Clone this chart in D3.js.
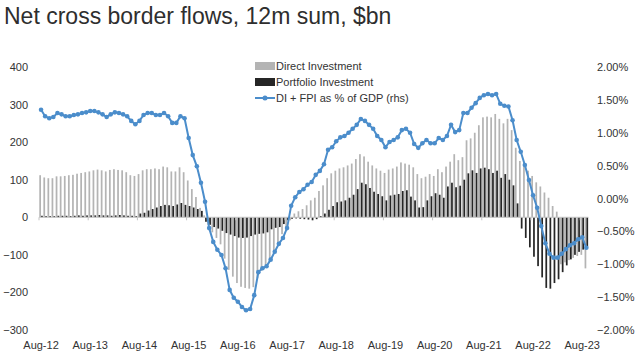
<!DOCTYPE html>
<html>
<head>
<meta charset="utf-8">
<script src="https://cdn.jsdelivr.net/npm/d3@7"></script>
<style>
  html, body { margin: 0; padding: 0; background: #ffffff; }
  svg { display: block; }
  text { font-family: "Liberation Sans", Arial, sans-serif; fill: #333333; }
</style>
</head>
<body>
<svg id="chart" width="640" height="356"></svg>
<script>
// ---- Data, monthly Aug-12 .. Sep-23 ----
const startMonth = new Date(2012, 7, 1);
const monthCount = 134;

// Direct Investment, 12m sum, $bn
const diValues = [
  112,106,104,104,109,109,110,112,113,116,
  118,120,122,125,127,125,122,126,128,126,
  125,120,112,110,115,125,128,128,130,128,
  135,133,122,122,133,120,98,75,54,25,
  5,-20,-40,-55,-72,-110,-140,-158,-175,-185,
  -188,-190,-186,-162,-142,-128,-112,-88,-66,-45,
  -27,-8,10,16,22,32,45,52,70,85,
  104,117,124,130,133,138,143,155,168,162,
  148,138,130,124,118,127,130,135,146,143,
  140,133,115,104,108,115,110,128,120,135,
  148,168,152,160,205,210,225,245,266,268,
  266,275,262,250,262,232,185,150,135,124,
  110,93,82,66,52,30,15,-125,-120,-114,
  -108,-103,-100,-136
];

// Portfolio Investment, 12m sum, $bn
const fpiValues = [
  4,3,3,3,4,4,4,3,4,5,
  4,5,5,5,6,5,5,4,5,6,
  5,4,4,3,10,12,18,22,26,30,
  33,32,30,34,38,33,30,26,22,17,
  -12,-20,-26,-30,-36,-42,-46,-50,-54,-55,
  -54,-50,-46,-44,-43,-40,-32,-28,-26,-18,
  -8,-4,-3,-4,-5,-6,-8,-5,3,10,
  20,30,40,42,45,52,60,75,92,88,
  78,68,62,56,45,58,60,62,70,72,
  55,45,26,27,45,56,64,60,52,82,
  92,80,84,100,117,125,118,130,132,128,
  118,124,105,115,100,85,37,-30,-55,-80,
  -105,-130,-160,-188,-190,-175,-165,-146,-128,-112,
  -100,-92,-86,-80
];

// DI + FPI as % of GDP (rhs)
const gdpPct = [
  1.35,1.25,1.22,1.24,1.30,1.28,1.25,1.25,1.27,1.28,
  1.30,1.31,1.33,1.33,1.31,1.28,1.24,1.28,1.31,1.30,
  1.28,1.25,1.18,1.13,1.18,1.27,1.30,1.30,1.27,1.27,
  1.30,1.25,1.15,1.15,1.25,1.22,0.92,0.66,0.49,0.24,
  -0.05,-0.45,-0.66,-0.78,-0.86,-1.06,-1.39,-1.51,-1.57,-1.65,
  -1.70,-1.68,-1.47,-1.12,-1.06,-1.03,-0.93,-0.81,-0.69,-0.60,
  -0.45,-0.11,0.02,0.10,0.14,0.21,0.25,0.36,0.42,0.52,
  0.74,0.78,0.87,0.93,0.95,1.00,1.06,1.12,1.21,1.18,
  1.12,1.06,0.95,0.89,0.78,0.86,0.89,0.93,1.04,1.06,
  1.00,0.83,0.77,0.84,0.89,0.84,0.84,0.92,0.89,0.95,
  1.12,1.01,1.04,1.30,1.30,1.38,1.45,1.53,1.57,1.59,
  1.57,1.59,1.44,1.41,1.40,1.19,0.89,0.71,0.51,0.28,
  0.05,-0.14,-0.42,-0.68,-0.84,-0.90,-0.90,-0.84,-0.77,-0.71,
  -0.68,-0.62,-0.59,-0.75
];

const leftTicks = [400, 300, 200, 100, 0, -100, -200, -300];
const rightTicks = [2.0, 1.5, 1.0, 0.5, 0.0, -0.5, -1.0, -1.5, -2.0];
const xTickLabels = ["Aug-12","Aug-13","Aug-14","Aug-15","Aug-16","Aug-17","Aug-18","Aug-19","Aug-20","Aug-21","Aug-22","Aug-23"];
const seriesNames = ["Direct Investment", "Portfolio Investment", "DI + FPI as % of GDP (rhs)"];

// ---- Build ----
const months = d3.timeMonth.range(startMonth, d3.timeMonth.offset(startMonth, monthCount));
const rows = months.map((m, i) => ({ m, di: diValues[i], fpi: fpiValues[i], pct: gdpPct[i] }));

const svg = d3.select("#chart");
const colDI = "#b4b4b4", colFPI = "#262626", colLine = "#4b8dcb";

const x = d3.scaleBand().domain(months.map(d => +d)).range([39, 588.4]).paddingInner(0).paddingOuter(0);
const xSub = d3.scaleBand().domain(["di", "fpi"]).range([0, x.bandwidth()]).paddingInner(0.05).paddingOuter(0.15);
const yL = d3.scaleLinear().domain([-300, 400]).range([330, 67]);
const yR = d3.scaleLinear().domain([-2, 2]).range([330, 67]);
const xc = d => x(+d) + x.bandwidth() / 2;

// Title
svg.append("text").attr("x", 4).attr("y", 24)
  .style("font-size", "23px").style("fill", "#2e2e2e")
  .text("Net cross border flows, 12m sum, $bn");

// Left axis labels
svg.append("g").selectAll("text").data(leftTicks).join("text")
  .attr("x", 28).attr("y", d => yL(d) + 4)
  .attr("text-anchor", "end").style("font-size", "11px")
  .text(d => d3.format("d")(d));

// Right axis labels
svg.append("g").selectAll("text").data(rightTicks).join("text")
  .attr("x", 597).attr("y", d => yR(d) + 4)
  .attr("text-anchor", "start").style("font-size", "11px")
  .text(d => d3.format(".2f")(d) + "%");

// Bars
const bars = svg.append("g");
bars.selectAll("rect.di").data(rows).join("rect").attr("class", "di")
  .attr("x", d => x(+d.m) + xSub("di")).attr("width", xSub.bandwidth())
  .attr("y", d => yL(Math.max(0, d.di))).attr("height", d => Math.abs(yL(d.di) - yL(0)))
  .attr("fill", colDI);
bars.selectAll("rect.fpi").data(rows).join("rect").attr("class", "fpi")
  .attr("x", d => x(+d.m) + xSub("fpi")).attr("width", xSub.bandwidth())
  .attr("y", d => yL(Math.max(0, d.fpi))).attr("height", d => Math.abs(yL(d.fpi) - yL(0)))
  .attr("fill", colFPI);

// Zero axis with ticks at each August
const augMonths = months.filter(m => m.getMonth() === 7);
const xAxisG = svg.append("g").attr("transform", `translate(0,${yL(0)})`);
xAxisG.append("line").attr("x1", 39).attr("x2", 588.4).attr("y1", 0).attr("y2", 0)
  .attr("stroke", "#c4c4c4").attr("stroke-width", 1);
xAxisG.selectAll("line.tk").data(augMonths).join("line").attr("class", "tk")
  .attr("x1", d => x(+d)).attr("x2", d => x(+d)).attr("y1", 0).attr("y2", 3)
  .attr("stroke", "#c4c4c4");

// X labels at bottom
svg.append("g").selectAll("text").data(augMonths.slice(0, xTickLabels.length)).join("text")
  .attr("x", d => xc(d)).attr("y", 349)
  .attr("text-anchor", "middle").style("font-size", "11px")
  .text((d, i) => xTickLabels[i]);

// Line + markers
const line = d3.line().x(d => xc(d.m)).y(d => yR(d.pct));
svg.append("path").datum(rows).attr("d", line)
  .attr("fill", "none").attr("stroke", colLine).attr("stroke-width", 2);
svg.append("g").selectAll("circle").data(rows).join("circle")
  .attr("cx", d => xc(d.m)).attr("cy", d => yR(d.pct)).attr("r", 2.3)
  .attr("fill", colLine);

// Legend
const lg = svg.append("g");
lg.append("rect").attr("x", 255).attr("y", 62).attr("width", 20).attr("height", 8).attr("fill", colDI);
lg.append("text").attr("x", 276).attr("y", 70).style("font-size", "11px").text(seriesNames[0]);
lg.append("rect").attr("x", 255).attr("y", 78).attr("width", 20).attr("height", 8).attr("fill", colFPI);
lg.append("text").attr("x", 276).attr("y", 86).style("font-size", "11px").text(seriesNames[1]);
lg.append("line").attr("x1", 255).attr("x2", 275).attr("y1", 98).attr("y2", 98)
  .attr("stroke", colLine).attr("stroke-width", 2);
lg.append("circle").attr("cx", 265).attr("cy", 98).attr("r", 2.5).attr("fill", colLine);
lg.append("text").attr("x", 276).attr("y", 102).style("font-size", "11px").text(seriesNames[2]);
</script>
</body>
</html>
